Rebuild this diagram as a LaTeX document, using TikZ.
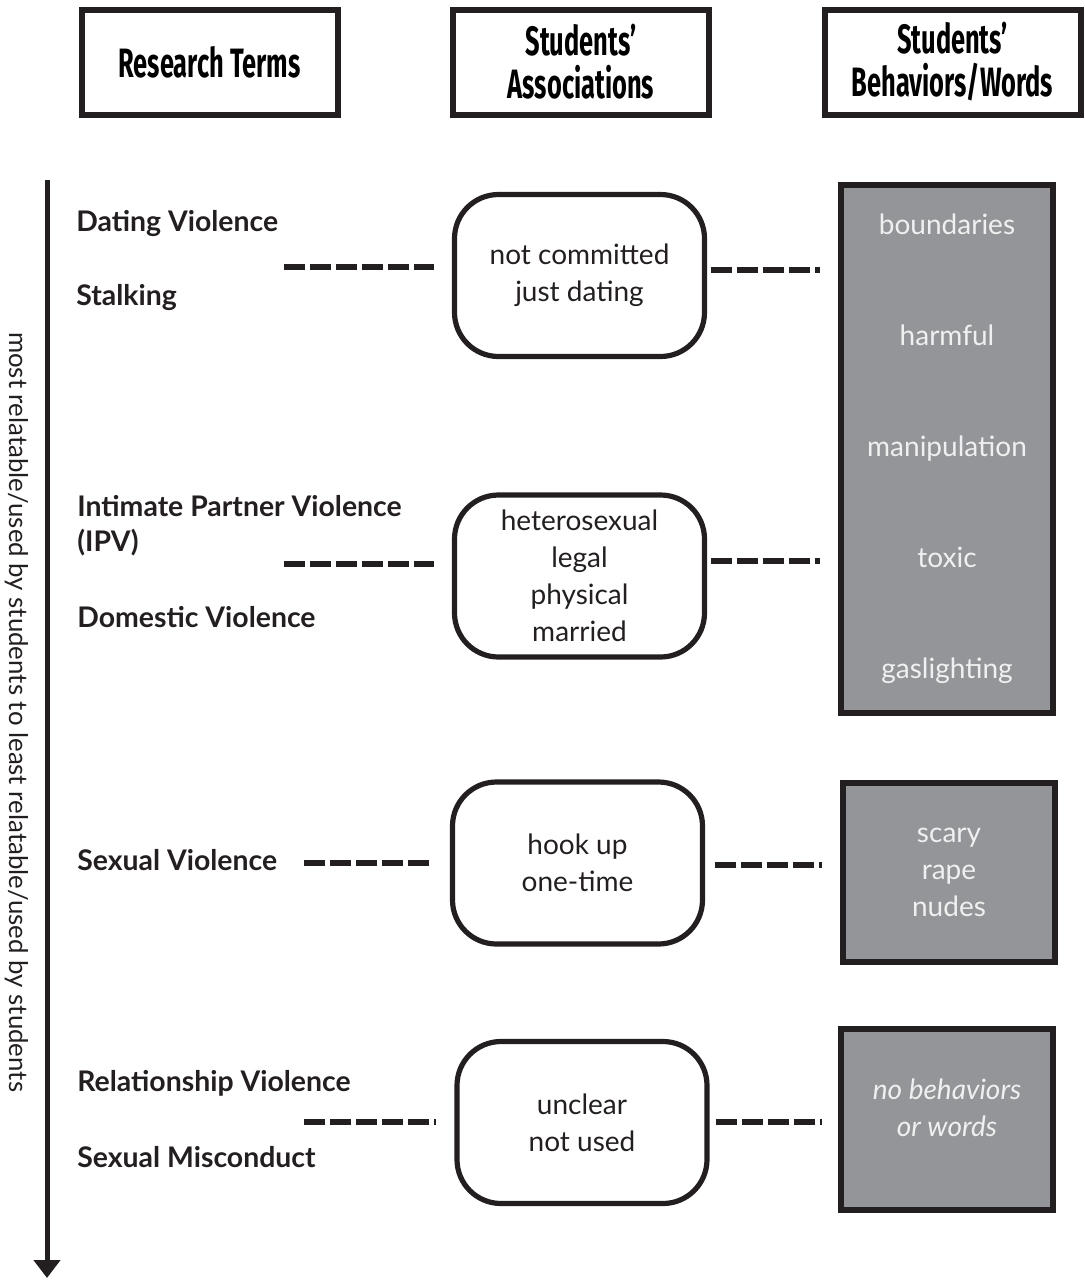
\documentclass[tikz,border=0pt]{standalone}
\usepackage{fontspec}
\setmainfont{Lato}
\newfontfamily\headfont[FakeStretch=0.62]{Fira Sans}
\usetikzlibrary{arrows.meta,positioning}
\definecolor{boxgray}{HTML}{939598}
\definecolor{linegray}{HTML}{231F20}
\begin{document}
\begin{tikzpicture}[x=0.5pt,y=-0.5pt]
\tikzstyle{every node}+=[inner sep=0pt]
\tikzstyle{headbox}=[draw=linegray, line width=3pt, minimum width=128pt, minimum height=52.5pt, align=center, font=\headfont\bfseries\fontsize{20.5}{21.5}\selectfont]
\tikzstyle{term}=[anchor=west, font=\bfseries\fontsize{14.2}{16}\selectfont, text=linegray]
\tikzstyle{assoc}=[draw=linegray, line width=2.6pt, rounded corners=22pt, minimum width=125pt, minimum height=81pt, align=center, font=\fontsize{14}{18.5}\selectfont, text=linegray]
\tikzstyle{words}=[draw=linegray, fill=boxgray, line width=3pt, minimum width=106pt, align=center, text=white!94!black, font=\fontsize{14}{18.5}\selectfont]
\tikzstyle{link}=[linegray, line width=2.8pt, dash pattern=on 10.5pt off 2.5pt]
\useasboundingbox (0,0) rectangle (1085,1280);
\node [headbox] (h1) at (209.5,62.5) {Research Terms};
\node [headbox] (h2) at (581,62) {Students’\\Associations};
\node [headbox] (h3) at (952.5,62) {Students’\\Behaviors/Words};
\coordinate (top) at (47,180);
\coordinate (bot) at (47,1278);
\draw [linegray, line width=2.5pt, -{Triangle[width=13pt,length=9pt]}] (top) -- (bot);
\node [rotate=-90, font=\fontsize{12.9}{15}\selectfont, text=linegray] (axis) at (17,712) {most relatable/used by students to least relatable/used by students};
\node [term] (t1) at (76,224) {Dating Violence};
\node [term] (t2) at (76,298) {Stalking};
\node [term] (t3) at (77,506) {Intimate Partner Violence};
\node [term] (t4) at (77,543) {(IPV)};
\node [term] (t5) at (77,617) {Domestic Violence};
\node [term] (t6) at (77,860) {Sexual Violence};
\node [term] (t7) at (77,1083) {Relationship Violence};
\node [term] (t8) at (77,1157) {Sexual Misconduct};
\node [assoc] (a1) at (579.5,275.5) {not committed\\just dating};
\node [assoc] (a2) at (579.5,576) {heterosexual\\legal\\physical\\married};
\node [assoc] (a3) at (577.5,863) {hook up\\one-time};
\node [assoc] (a4) at (582,1122.5) {unclear\\not used};
\node [words, minimum height=264pt, font=\fontsize{14}{55.5}\selectfont] (w1) at (947,449) {boundaries\\harmful\\manipulation\\toxic\\gaslighting};
\node [words, minimum height=89.5pt] (w2) at (949,872.5) {scary\\rape\\nudes};
\node [words, minimum height=90.5pt] (w3) at (947,1119.5) {};
\node [text=white!94!black, align=center, font=\itshape\fontsize{14}{18.5}\selectfont] (w3text) at (947,1107.5) {no behaviors\\or words};
\coordinate (l1) at (284,267);
\coordinate (l2) at (284,564);
\coordinate (l3) at (304,863);
\coordinate (l4) at (304,1122);
\coordinate (r1) at (820,270);
\coordinate (r2) at (820,561);
\coordinate (r3) at (822,865);
\coordinate (r4) at (822,1122);
\draw [link, shorten >=9pt] (l1) -- (l1 -| a1.west);
\draw [link, shorten >=9pt] (l2) -- (l2 -| a2.west);
\draw [link, shorten >=9pt] (l3) -- (l3 -| a3.west);
\draw [link, shorten >=9pt] (l4) -- (l4 -| a4.west);
\draw [link, shorten <=2pt] (r1 -| a1.east) -- (r1);
\draw [link, shorten <=2pt] (r2 -| a2.east) -- (r2);
\draw [link, shorten <=5pt] (r3 -| a3.east) -- (r3);
\draw [link, shorten <=3pt] (r4 -| a4.east) -- (r4);
\end{tikzpicture}
\end{document}
